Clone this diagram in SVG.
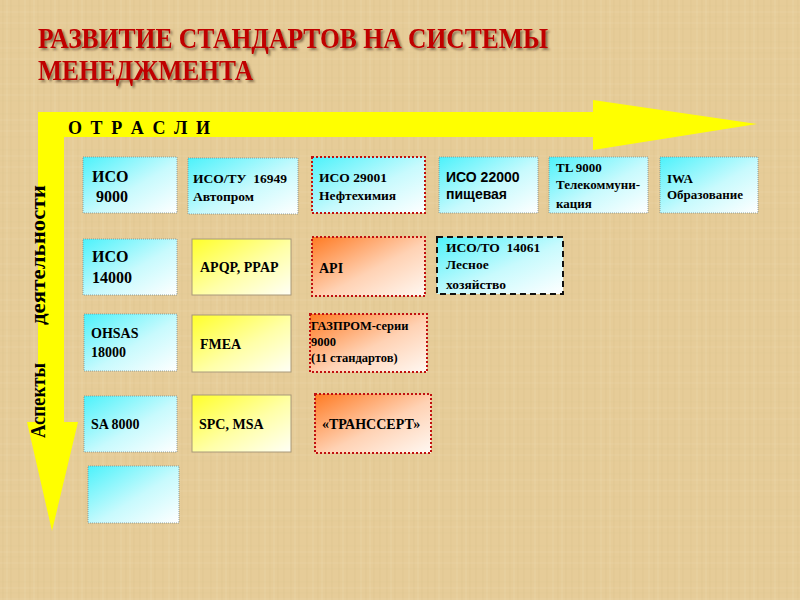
<svg xmlns="http://www.w3.org/2000/svg" width="800" height="600" viewBox="0 0 800 600">
<style>
.t{font-family:"Liberation Serif","Times New Roman",serif;font-weight:bold;fill:#000}
.s{font-family:"Liberation Sans",Arial,sans-serif;font-weight:bold;fill:#000}
.cy{fill:url(#gc);stroke:#7a8a8a;stroke-width:0.8;stroke-dasharray:1 1}
.ye{fill:url(#gy);stroke:#a8987a;stroke-width:1}
.or{fill:url(#go);stroke:#c01010;stroke-width:2;stroke-dasharray:2 2}
.bk{fill:url(#gc);stroke:#111;stroke-width:2;stroke-dasharray:6 4}
.ti{font-family:"Liberation Serif","Times New Roman",serif;font-weight:bold;font-size:30px;fill:#c00000}
</style>
<defs>
<linearGradient id="gc" x1="0" y1="0" x2="1" y2="1">
<stop offset="0" stop-color="#4cf2fb"/><stop offset="0.55" stop-color="#c8fafd"/><stop offset="1" stop-color="#ffffff"/>
</linearGradient>
<linearGradient id="gy" x1="0" y1="0" x2="1" y2="1">
<stop offset="0" stop-color="#ffff2a"/><stop offset="0.55" stop-color="#ffffa8"/><stop offset="1" stop-color="#fffff6"/>
</linearGradient>
<linearGradient id="go" x1="0" y1="0" x2="1" y2="1">
<stop offset="0" stop-color="#ff7a22"/><stop offset="0.55" stop-color="#ffd2b4"/><stop offset="1" stop-color="#fff8f2"/>
</linearGradient>
<filter id="sh" x="-5%" y="-20%" width="110%" height="150%">
<feDropShadow dx="2" dy="2" stdDeviation="1" flood-color="#4a3020" flood-opacity="0.6"/>
</filter>
<pattern id="tex" width="48" height="36" patternUnits="userSpaceOnUse">
<rect width="48" height="36" fill="#e6cc98"/>
<path d="M3 0V36M11 0V36M19 0V36M30 0V36M38 0V36M44 0V36" stroke="#dbbf88" stroke-width="0.7" opacity="0.5"/>
<path d="M7 0V36M25 0V36M34 0V36" stroke="#f1deb6" stroke-width="0.7" opacity="0.5"/>
<path d="M0 6H48M0 17H48M0 29H48" stroke="#dcc18c" stroke-width="0.6" opacity="0.4"/>
<path d="M0 12H48M0 23H48" stroke="#f1dfb6" stroke-width="0.6" opacity="0.4"/>
</pattern>
</defs>
<rect width="800" height="600" fill="url(#tex)"/>

<g id="title" filter="url(#sh)">
<text class="ti" x="38" y="48" textLength="510" lengthAdjust="spacingAndGlyphs">РАЗВИТИЕ СТАНДАРТОВ НА СИСТЕМЫ</text>
<text class="ti" x="38" y="80" textLength="215" lengthAdjust="spacingAndGlyphs">МЕНЕДЖМЕНТА</text>
</g>

<g id="axes">
<polygon points="38,112 593,112 593,100 757,124 593,150 593,137 64,137 64,422 78,422 52,531 27,422 38,422" fill="#ffff00"/>
<text class="t" x="68" y="134" font-size="18" textLength="142" lengthAdjust="spacing">О Т Р А С Л И</text>
<text class="t" font-size="21" transform="translate(45,438) rotate(-90)" textLength="75" lengthAdjust="spacingAndGlyphs">Аспекты</text>
<text class="t" font-size="21" transform="translate(45,325) rotate(-90)" textLength="140" lengthAdjust="spacingAndGlyphs">деятельности</text>
</g>

<g id="n-iso9000"><rect class="cy" x="83" y="157" width="94" height="56"/><text class="t" font-size="16" x="92" y="182">ИСО</text><text class="t" font-size="16" x="96" y="202">9000</text></g>
<g id="n-iso16949"><rect class="cy" x="188" y="158" width="110" height="56"/><text class="t" font-size="13.5" x="193" y="183" xml:space="preserve">ИСО/ТУ  16949</text><text class="t" font-size="13.5" x="193" y="201">Автопром</text></g>
<g id="n-iso29001"><rect class="or" x="312" y="157" width="113" height="56" style="fill:url(#gc)"/><text class="t" font-size="13.5" x="319" y="182">ИСО 29001</text><text class="t" font-size="13.5" x="319" y="200">Нефтехимия</text></g>
<g id="n-iso22000"><rect class="cy" x="439" y="157" width="99" height="56"/><text class="s" font-size="14" x="446" y="182">ИСО 22000</text><text class="s" font-size="14" x="446" y="199">пищевая</text></g>
<g id="n-tl9000"><rect class="cy" x="549" y="157" width="99" height="56"/><text class="t" font-size="13" x="556" y="172">TL 9000</text><text class="t" font-size="13" x="556" y="189">Телекоммуни-</text><text class="t" font-size="13" x="556" y="208">кация</text></g>
<g id="n-iwa"><rect class="cy" x="660" y="157" width="98" height="56"/><text class="t" font-size="13" x="667" y="183">IWA</text><text class="t" font-size="13" x="667" y="199">Образование</text></g>

<g id="n-iso14000"><rect class="cy" x="83" y="239" width="94" height="56"/><text class="t" font-size="16" x="92" y="262">ИСО</text><text class="t" font-size="16" x="92" y="283">14000</text></g>
<g id="n-apqp"><rect class="ye" x="192" y="239" width="99" height="56"/><text class="t" font-size="14" x="200" y="272">APQP, PPAP</text></g>
<g id="n-api"><rect class="or" x="312" y="237" width="113" height="59"/><text class="t" font-size="14" x="319" y="273">API</text></g>
<g id="n-iso14061"><rect class="bk" x="437" y="237" width="126" height="57"/><text class="t" font-size="13.5" x="446" y="252" xml:space="preserve">ИСО/ТО  14061</text><text class="t" font-size="13.5" x="446" y="269">Лесное</text><text class="t" font-size="13.5" x="446" y="289">хозяйство</text></g>

<g id="n-ohsas"><rect class="cy" x="84" y="314" width="93" height="57"/><text class="t" font-size="14" x="91" y="338">OHSAS</text><text class="t" font-size="14" x="91" y="357">18000</text></g>
<g id="n-fmea"><rect class="ye" x="192" y="315" width="99" height="57"/><text class="t" font-size="14" x="200" y="349">FMEA</text></g>
<g id="n-gazprom"><rect class="or" x="310" y="314" width="117" height="58"/><text class="t" font-size="12.5" x="311" y="330">ГАЗПРОМ-серии</text><text class="t" font-size="12.5" x="311" y="346">9000</text><text class="t" font-size="12.5" x="311" y="362">(11 стандартов)</text></g>

<g id="n-sa8000"><rect class="cy" x="84" y="396" width="93" height="56"/><text class="t" font-size="14" x="91" y="429">SA 8000</text></g>
<g id="n-spc"><rect class="ye" x="192" y="395" width="99" height="57"/><text class="t" font-size="14" x="199" y="429">SPC, MSA</text></g>
<g id="n-transsert"><rect class="or" x="315" y="394" width="116" height="59"/><text class="t" font-size="14" x="322" y="429">«ТРАНССЕРТ»</text></g>

<g id="n-empty"><rect class="cy" x="88" y="466" width="91" height="57"/></g>
</svg>
